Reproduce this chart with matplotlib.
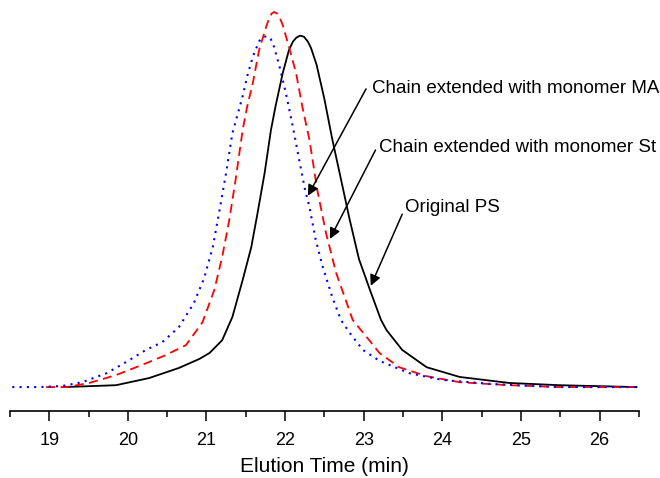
import matplotlib
matplotlib.use("Agg")
import matplotlib.pyplot as plt

plt.rcParams['font.family'] = ['Liberation Sans', 'DejaVu Sans']

# Original PS (black solid)
ps_x = [19.19, 19.85, 20.27, 20.65, 20.91, 21.04, 21.20, 21.33, 21.46, 21.57, 21.65, 21.74,
        21.82, 21.88, 21.97, 22.05, 22.10, 22.14, 22.19, 22.24, 22.29, 22.33, 22.40, 22.50,
        22.60, 22.71, 22.82, 22.94, 23.09, 23.22, 23.29, 23.49, 23.80, 24.22, 24.85, 25.49,
        26.47]
ps_y = [0.0, 0.005, 0.024, 0.051, 0.075, 0.091, 0.125, 0.187, 0.285, 0.373, 0.464, 0.571,
        0.685, 0.750, 0.837, 0.899, 0.921, 0.931, 0.937, 0.934, 0.921, 0.904, 0.86, 0.768,
        0.661, 0.555, 0.448, 0.341, 0.253, 0.179, 0.152, 0.099, 0.053, 0.027, 0.011, 0.005,
        0.0]

# chain extended with St (red dashed)
st_x = [18.96, 19.22, 19.51, 19.85, 20.18, 20.48, 20.74, 20.95, 21.10, 21.20, 21.29, 21.37,
        21.46, 21.52, 21.59, 21.67, 21.76, 21.80, 21.83, 21.86, 21.90, 21.93, 21.97, 22.05,
        22.14, 22.22, 22.31, 22.41, 22.52, 22.65, 22.86, 23.07, 23.20, 23.45, 23.80, 24.22,
        24.85, 25.49, 26.47]
st_y = [0.0, 0.0, 0.011, 0.032, 0.059, 0.085, 0.112, 0.173, 0.259, 0.347, 0.445, 0.552,
        0.685, 0.75, 0.811, 0.899, 0.961, 0.985, 0.996, 1.0, 0.996, 0.986, 0.965, 0.907,
        0.837, 0.747, 0.659, 0.525, 0.411, 0.304, 0.179, 0.125, 0.091, 0.053, 0.029, 0.013,
        0.005, 0.0, 0.0]

# chain extended with MA (blue dotted)
ma_x = [18.53, 18.87, 19.17, 19.42, 19.73, 19.98, 20.23, 20.44, 20.65, 20.84, 20.97, 21.08,
        21.16, 21.25, 21.33, 21.40, 21.46, 21.52, 21.59, 21.67, 21.71, 21.77, 21.82, 21.86,
        21.93, 22.01, 22.10, 22.18, 22.25, 22.31, 22.39, 22.48, 22.60, 22.71, 22.82, 22.99,
        23.20, 23.58, 24.00, 24.64, 25.49, 26.47]
ma_y = [0.0, 0.0, 0.003, 0.013, 0.037, 0.067, 0.099, 0.12, 0.16, 0.224, 0.29, 0.373,
        0.464, 0.571, 0.677, 0.73, 0.775, 0.83, 0.881, 0.922, 0.932, 0.936, 0.927, 0.907,
        0.854, 0.784, 0.693, 0.605, 0.53, 0.48, 0.392, 0.32, 0.24, 0.179, 0.145, 0.099,
        0.07, 0.037, 0.019, 0.008, 0.0, 0.0]

labels = ["Chain extended with monomer MA", "Chain extended with monomer St", "Original PS"]
tips = [(22.29, 0.51), (22.57, 0.395), (23.09, 0.27)]
tails = [(23.03, 0.795), (23.15, 0.632), (23.49, 0.461)]
text_pos = [(23.10, 0.797), (23.20, 0.64), (23.52, 0.48)]

fig = plt.figure(figsize=(6.6, 4.78), dpi=100)
ax = fig.add_axes([0.015, 0.14, 0.953, 0.86])

ax.plot(ps_x, ps_y, color='black', lw=1.3, ls='-')
ax.plot(st_x, st_y, color='red', lw=1.3, ls=(0, (5, 3)))
ax.plot(ma_x, ma_y, color='blue', lw=1.5, ls=(0, (1, 2.5)))

for lab, tip, tail, tp in zip(labels, tips, tails, text_pos):
    ax.text(tp[0], tp[1], lab, fontsize=13.5, ha='left', va='center')
    ax.annotate('', xy=tip, xytext=tail,
                arrowprops=dict(arrowstyle='-|>', color='black', lw=1.1,
                                mutation_scale=16, shrinkA=0, shrinkB=0))

ax.set_xlim(18.5, 26.5)
ax.set_ylim(-0.064, 1.032)
ax.set_xticks(range(19, 27))
ax.set_xticks([18.5 + 0.5 * i for i in range(17)], minor=True)
ax.tick_params(axis='x', which='major', direction='out', length=7, width=1.1, labelsize=13, pad=8)
ax.tick_params(axis='x', which='minor', direction='out', length=4.5, width=1.1)
ax.set_yticks([])
for s in ['top', 'right', 'left']:
    ax.spines[s].set_visible(False)
ax.spines['bottom'].set_linewidth(1.2)
ax.set_xlabel("Elution Time (min)", fontsize=15, labelpad=6)

fig.savefig("out.png", dpi=100)
